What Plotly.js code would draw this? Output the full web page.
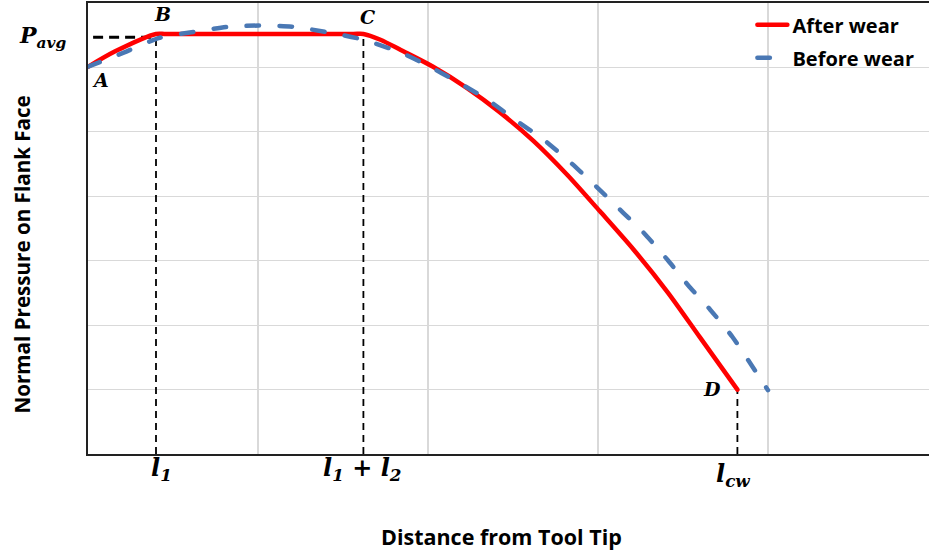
<!DOCTYPE html>
<html>
<head>
<meta charset="utf-8">
<script src="https://cdn.plot.ly/plotly-3.0.1.min.js"></script>
<style>
  html, body { margin: 0; padding: 0; background: #fff; }
  #chart { width: 929px; height: 556px; }
  .scatterlayer .js-line, .legendlines path { stroke-linecap: round; }
</style>
</head>
<body>
<div id="chart"></div>
<script>
// ---- Data (arbitrary units) ----
const seriesNames = ['After wear', 'Before wear'];

const xAfter = [0, 0.16, 0.40, 0.46, 1.56, 1.62, 1.72, 1.84, 2.03, 2.23, 2.42, 2.62, 2.82, 3.01, 3.21, 3.41, 3.60, 3.82];
const yAfter = [6.01, 6.25, 6.52, 6.52, 6.52, 6.52, 6.43, 6.27, 6.01, 5.68, 5.31, 4.86, 4.33, 3.77, 3.17, 2.51, 1.81, 1.00];

const xBefore = [0, 0.21, 0.42, 0.62, 0.82, 1.01, 1.21, 1.42, 1.62, 1.84, 1.99, 2.17, 2.35, 2.51, 2.68, 2.84, 2.99, 3.15, 3.27, 3.41, 3.53, 3.66, 3.79, 3.91, 4.0];
const yBefore = [6.01, 6.23, 6.46, 6.55, 6.63, 6.65, 6.63, 6.54, 6.43, 6.23, 6.04, 5.78, 5.50, 5.19, 4.88, 4.52, 4.15, 3.74, 3.43, 3.01, 2.62, 2.24, 1.82, 1.35, 0.99];

// Key points on the "After wear" curve (indices into xAfter / yAfter)
const pointLabels = ['A', 'B', 'C', 'D'];
const pointIndex = [0, 2, 5, 17];

// Labels under the x axis, placed at points B, C, D
const xTickLabels = ['l<sub>1</sub>', 'l<sub>1</sub> + l<sub>2</sub>', 'l<sub>cw</sub>'];
const xTickPointIndex = [2, 5, 17];

const pAvgLabel = 'P<sub>avg</sub>';

const xTitle = 'Distance from Tool Tip';
const yTitle = 'Normal Pressure on Flank Face';

// ---- Styling ----
const uiFont = '"Open Sans", "Noto Sans", sans-serif';
const mathFont = '"DejaVu Serif", "Liberation Serif", serif';

const traces = [
  {
    x: xAfter, y: yAfter, name: seriesNames[0], type: 'scatter', mode: 'lines',
    line: { color: '#ff0000', width: 4.5, shape: 'spline', smoothing: 0.8 }, legendgroup: 'a', hoverinfo: 'skip'
  },
  {
    x: xBefore, y: yBefore, name: seriesNames[1], type: 'scatter', mode: 'lines',
    line: { color: '#4a78b4', width: 4.5, dash: '12.5px,20.5px', shape: 'spline', smoothing: 0.6 },
    legendgroup: 'b', hoverinfo: 'skip'
  }
];

const pts = pointIndex.map(i => ({ x: xAfter[i], y: yAfter[i] }));
const B = pts[1], C = pts[2], D = pts[3];

const shapes = [];
// horizontal P_avg guide
shapes.push({ type: 'line', xref: 'x', yref: 'y', x0: 0.03, x1: B.x, y0: B.y - 0.05, y1: B.y - 0.05,
  line: { color: '#000', width: 3, dash: '10px,6px' }, layer: 'between' });
// vertical guides to the x axis
[B, C, D].forEach(p => {
  shapes.push({ type: 'line', xref: 'x', yref: 'y', x0: p.x, x1: p.x, y0: 0, y1: p.y,
    line: { color: '#000', width: 1.8, dash: '7px,5px' }, layer: 'between' });
});

const annotations = [];
const labelShift = [[12, -13], [6, 20], [4, 17], [-25, 1]];
pts.forEach((p, k) => {
  annotations.push({ x: p.x, y: p.y, xref: 'x', yref: 'y', text: '<b><i>' + pointLabels[k] + '</i></b>',
    showarrow: false, xshift: labelShift[k][0], yshift: labelShift[k][1],
    font: { family: mathFont, size: 19, color: '#000' } });
});
const tickShift = [[5, -15], [-1, -15], [-4, -21]];
xTickPointIndex.forEach((idx, k) => {
  annotations.push({ x: xAfter[idx], y: 0, xref: 'x', yref: 'paper', yanchor: 'middle',
    text: '<b><i>' + xTickLabels[k] + '</i></b>', showarrow: false,
    xshift: tickShift[k][0], yshift: tickShift[k][1],
    font: { family: mathFont, size: 24, color: '#000' } });
});
annotations.push({ x: 0, y: B.y, xref: 'x', yref: 'y', xanchor: 'center', yanchor: 'middle',
  text: '<b><i>' + pAvgLabel + '</i></b>', showarrow: false, xshift: -46, yshift: -3,
  font: { family: mathFont, size: 22, color: '#000' } });
// axis titles
annotations.push({ x: 0.5, y: -0.18, xref: 'paper', yref: 'paper', xanchor: 'center', yanchor: 'middle',
  xshift: -7, yshift: -1, text: xTitle, showarrow: false, font: { family: uiFont, size: 21.5, weight: 'bold', color: '#000' } });
annotations.push({ x: 0, y: 0.5, xref: 'paper', yref: 'paper', xanchor: 'center', yanchor: 'middle',
  xshift: -67, yshift: -26, textangle: -90, text: yTitle, showarrow: false,
  font: { family: uiFont, size: 20.6, weight: 'bold', color: '#000' } });

const layout = {
  width: 929, height: 556,
  margin: { l: 88, r: 0, t: 3, b: 102 },
  paper_bgcolor: '#ffffff', plot_bgcolor: '#ffffff',
  showlegend: true,
  legend: { x: 0.79, y: 0.995, xanchor: 'left', yanchor: 'top', bgcolor: 'rgba(0,0,0,0)',
    tracegroupgap: 4, font: { family: uiFont, size: 20, weight: 'bold', color: '#000' } },
  xaxis: { range: [0, 841 / 170], dtick: 1, tick0: 0, showticklabels: false, ticks: '',
    showgrid: true, gridcolor: '#d9d9d9', gridwidth: 1.2, zeroline: false,
    showline: true, linecolor: '#222', linewidth: 2, mirror: true, fixedrange: true },
  yaxis: { range: [0, 7], dtick: 1, tick0: 0, showticklabels: false, ticks: '',
    showgrid: true, gridcolor: '#d9d9d9', gridwidth: 1.2, zeroline: false,
    showline: true, linecolor: '#222', linewidth: 2, mirror: false, fixedrange: true },
  shapes: shapes,
  annotations: annotations
};

Plotly.newPlot('chart', traces, layout, { displayModeBar: false, staticPlot: true });
</script>
</body>
</html>
